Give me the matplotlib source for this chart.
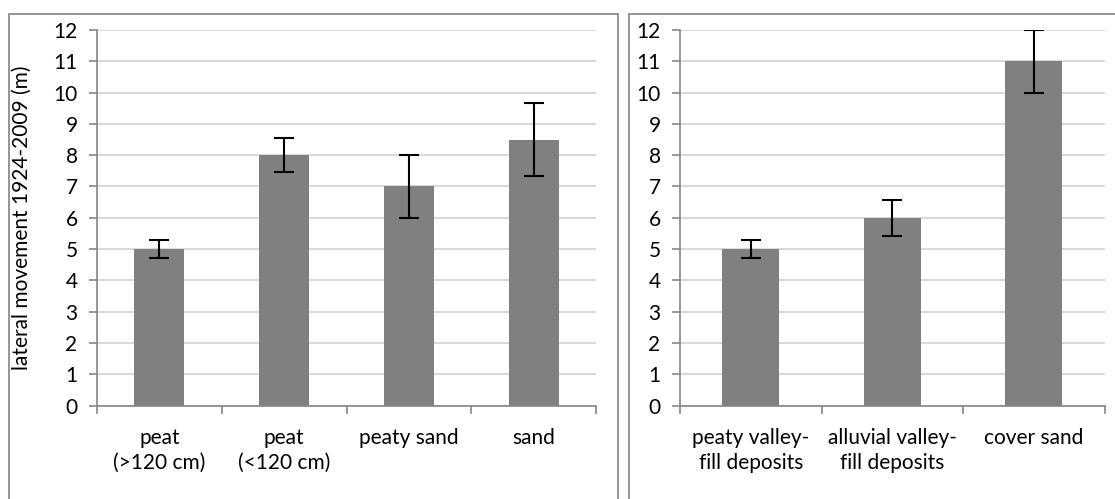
import matplotlib
matplotlib.use("Agg")
import matplotlib.pyplot as plt
from matplotlib.patches import Rectangle
import numpy as np

plt.rcParams['font.family'] = ['Lato', 'DejaVu Sans']

# ---- data ----
left_categories = ["peat\n(>120 cm)", "peat\n(<120 cm)", "peaty sand", "sand"]
left_values = [5.0, 8.0, 7.0, 8.5]
left_errors = [0.3, 0.55, 1.0, 1.17]

right_categories = ["peaty valley-\nfill deposits", "alluvial valley-\nfill deposits", "cover sand"]
right_values = [5.0, 6.0, 11.0]
right_errors = [0.3, 0.57, 1.0]

y_ticks = list(range(0, 13))
y_label = "lateral movement 1924-2009 (m)"

# ---- style ----
W, H = 1115, 499
fig = plt.figure(figsize=(W / 100, H / 100), dpi=100)
bar_color = "#808080"
axis_color = "#868686"
grid_color = "#d9d9d9"
border_color = "#8c8c8c"
fs = 15

def fx(px):
    return px / W

def fy(py):
    return 1 - py / H

ax_bottom = fy(405.5)
ax_top = fy(30)

def make_panel(rect, cats, vals, errs):
    ax = fig.add_axes(rect)
    n = len(cats)
    x = np.arange(n)
    ax.bar(x, vals, width=0.4, color=bar_color, zorder=2)
    ax.errorbar(x, vals, yerr=errs, fmt='none', ecolor='black', elinewidth=1.5,
                capsize=7, capthick=1.5, zorder=3)
    ax.set_xlim(-0.5, n - 0.5)
    ax.set_ylim(0, 12)
    ax.set_yticks(y_ticks)
    ax.set_yticklabels([str(t) for t in y_ticks], fontsize=fs)
    ax.set_xticks(x)
    ax.set_xticklabels(cats, fontsize=fs, linespacing=1.3)
    ax.set_xticks(np.arange(n + 1) - 0.5, minor=True)
    ax.tick_params(axis='x', which='major', length=0, pad=16)
    ax.tick_params(axis='x', which='minor', length=6, width=1.2, color=axis_color, direction='out')
    ax.tick_params(axis='y', which='major', length=6, width=1.2, color=axis_color, pad=8)
    for s in ['top', 'right']:
        ax.spines[s].set_visible(False)
    for s in ['left', 'bottom']:
        ax.spines[s].set_color(axis_color)
        ax.spines[s].set_linewidth(1.2)
    ax.yaxis.grid(True, color=grid_color, linewidth=1.5, zorder=0)
    ax.set_axisbelow(True)
    return ax

axL = make_panel([fx(97), ax_bottom, fx(596) - fx(97), ax_top - ax_bottom],
                 left_categories, left_values, left_errors)
axR = make_panel([fx(680), ax_bottom, fx(1104.5) - fx(680), ax_top - ax_bottom],
                 right_categories, right_values, right_errors)

fig.text(fx(22), (ax_bottom + ax_top) / 2, y_label, rotation=90, ha='center', va='center', fontsize=fs)

# panel borders
fig.add_artist(Rectangle((fx(9), -0.1), fx(618) - fx(9), fy(14) + 0.1, transform=fig.transFigure,
                         fill=False, edgecolor=border_color, linewidth=1.3))
fig.add_artist(Rectangle((fx(629), -0.1), 1.1 - fx(629), fy(14) + 0.1, transform=fig.transFigure,
                         fill=False, edgecolor=border_color, linewidth=1.3))

fig.savefig("out.png", dpi=100)
